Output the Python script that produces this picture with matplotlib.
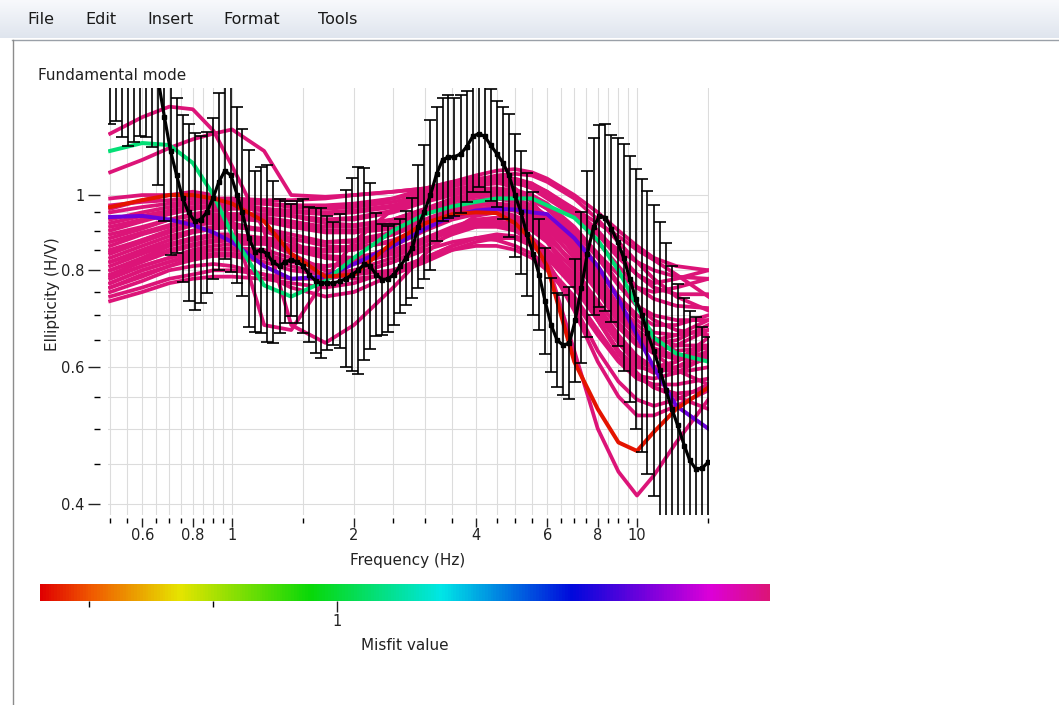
import numpy as np
import matplotlib
matplotlib.use("Agg")
import matplotlib.pyplot as plt
from matplotlib.colors import LinearSegmentedColormap, Normalize
from matplotlib.cm import ScalarMappable
from matplotlib.ticker import FixedLocator, FixedFormatter, NullFormatter

W, H = 1059, 705

# ---- measured ellipticity curve (black, with error bars) ----
freq = [0.500, 0.518, 0.536, 0.554, 0.574, 0.594, 0.614, 0.636, 0.658, 0.681,
        0.705, 0.730, 0.755, 0.781, 0.809, 0.837, 0.866, 0.897, 0.928, 0.960,
        0.994, 1.03, 1.06, 1.10, 1.14, 1.18, 1.22, 1.26, 1.31, 1.35,
        1.40, 1.45, 1.50, 1.55, 1.61, 1.66, 1.72, 1.78, 1.85, 1.91,
        1.98, 2.05, 2.12, 2.19, 2.27, 2.35, 2.43, 2.51, 2.60, 2.69,
        2.79, 2.88, 2.98, 3.09, 3.20, 3.31, 3.42, 3.54, 3.67, 3.80,
        3.93, 4.07, 4.21, 4.35, 4.51, 4.67, 4.83, 5.00, 5.17, 5.35,
        5.54, 5.73, 5.93, 6.14, 6.35, 6.58, 6.81, 7.04, 7.29, 7.54,
        7.81, 8.08, 8.36, 8.65, 8.96, 9.27, 9.60, 9.93, 10.3, 10.6,
        11.0, 11.4, 11.8, 12.2, 12.6, 13.1, 13.5, 14.0, 14.5, 15.0]
ellipticity = [1.58, 1.58, 1.57, 1.55, 1.52, 1.50, 1.52, 1.50, 1.40, 1.26,
               1.14, 1.06, 0.99, 0.95, 0.925, 0.93, 0.95, 0.99, 1.04, 1.075,
               1.06, 1.00, 0.95, 0.88, 0.845, 0.85, 0.84, 0.82, 0.81, 0.82,
               0.825, 0.82, 0.81, 0.79, 0.775, 0.77, 0.77, 0.77, 0.775, 0.78,
               0.79, 0.80, 0.815, 0.81, 0.79, 0.778, 0.78, 0.79, 0.81, 0.83,
               0.855, 0.91, 0.95, 1.00, 1.065, 1.11, 1.12, 1.12, 1.13, 1.155,
               1.19, 1.20, 1.19, 1.16, 1.13, 1.10, 1.06, 1.00, 0.95, 0.89,
               0.84, 0.79, 0.73, 0.68, 0.65, 0.64, 0.645, 0.69, 0.76, 0.84,
               0.91, 0.94, 0.935, 0.905, 0.87, 0.83, 0.78, 0.735, 0.70, 0.665,
               0.63, 0.595, 0.56, 0.53, 0.505, 0.475, 0.455, 0.443, 0.445, 0.453]
# multiplicative standard deviation (bar spans value/s .. value*s)
err_factor = [1.28, 1.27, 1.32, 1.34, 1.30, 1.26, 1.28, 1.30, 1.36, 1.36,
              1.36, 1.26, 1.28, 1.30, 1.30, 1.28, 1.27, 1.27, 1.30, 1.30,
              1.33, 1.30, 1.28, 1.30, 1.27, 1.28, 1.30, 1.27, 1.22, 1.20,
              1.18, 1.20, 1.22, 1.22, 1.24, 1.25, 1.22, 1.20, 1.22, 1.30,
              1.33, 1.36, 1.33, 1.28, 1.20, 1.18, 1.17, 1.16, 1.15, 1.15,
              1.16, 1.20, 1.22, 1.25, 1.22, 1.20, 1.20, 1.19, 1.19, 1.18,
              1.18, 1.17, 1.18, 1.18, 1.17, 1.18, 1.20, 1.20, 1.20, 1.20,
              1.20, 1.18, 1.17, 1.15, 1.15, 1.16, 1.18, 1.20, 1.25, 1.28,
              1.30, 1.31, 1.32, 1.32, 1.36, 1.40, 1.44, 1.47, 1.50, 1.52,
              1.54, 1.55, 1.55, 1.53, 1.52, 1.55, 1.56, 1.57, 1.52, 1.45]

# ---- inverted model curves ----
model_freq = [0.5, 0.6, 0.7, 0.8, 0.9, 1.0, 1.2, 1.4, 1.7, 2.0, 2.5, 3.0, 3.5,
              4.0, 4.5, 5.0, 5.5, 6.0, 7.0, 8.0, 9.0, 10.0, 11.0, 12.5, 15.0]

pink_curves = [
    [1.20, 1.26, 1.30, 1.29, 1.21, 1.09, 0.90, 0.68, 0.645, 0.68, 0.76, 0.84, 0.90, 0.94, 0.95, 0.93, 0.88, 0.82, 0.72, 0.63, 0.575, 0.545, 0.535, 0.545, 0.57],
    [1.07, 1.11, 1.15, 1.18, 1.20, 1.215, 1.14, 1.0, 0.995, 1.0, 1.01, 1.02, 1.03, 1.04, 1.045, 1.04, 1.02, 0.99, 0.94, 0.89, 0.85, 0.82, 0.80, 0.785, 0.78],
    [0.96, 0.985, 1.0, 1.01, 1.0, 0.93, 0.68, 0.67, 0.78, 0.87, 0.96, 1.01, 1.03, 1.04, 1.04, 1.02, 0.98, 0.93, 0.84, 0.76, 0.70, 0.66, 0.645, 0.65, 0.68],
    [0.77, 0.80, 0.82, 0.835, 0.84, 0.84, 0.83, 0.81, 0.79, 0.79, 0.82, 0.86, 0.89, 0.91, 0.92, 0.91, 0.875, 0.82, 0.63, 0.50, 0.44, 0.41, 0.435, 0.48, 0.545],
    [0.73, 0.75, 0.77, 0.78, 0.785, 0.785, 0.78, 0.77, 0.76, 0.77, 0.80, 0.83, 0.85, 0.86, 0.86, 0.85, 0.83, 0.80, 0.73, 0.66, 0.61, 0.58, 0.57, 0.57, 0.58],
    [0.74, 0.76, 0.78, 0.79, 0.80, 0.80, 0.79, 0.78, 0.78, 0.79, 0.82, 0.85, 0.87, 0.88, 0.875, 0.86, 0.84, 0.81, 0.74, 0.67, 0.615, 0.585, 0.58, 0.59, 0.62],
    [0.75, 0.775, 0.80, 0.81, 0.815, 0.81, 0.79, 0.76, 0.74, 0.75, 0.79, 0.83, 0.86, 0.88, 0.885, 0.88, 0.86, 0.83, 0.76, 0.69, 0.63, 0.59, 0.565, 0.55, 0.53],
    [0.76, 0.79, 0.81, 0.83, 0.835, 0.835, 0.82, 0.80, 0.79, 0.80, 0.83, 0.87, 0.90, 0.91, 0.91, 0.90, 0.88, 0.85, 0.78, 0.70, 0.645, 0.61, 0.60, 0.61, 0.64],
    [0.77, 0.80, 0.82, 0.84, 0.85, 0.855, 0.85, 0.83, 0.80, 0.79, 0.80, 0.83, 0.86, 0.88, 0.89, 0.885, 0.87, 0.84, 0.77, 0.69, 0.63, 0.60, 0.595, 0.61, 0.655],
    [0.78, 0.81, 0.83, 0.845, 0.85, 0.85, 0.84, 0.82, 0.81, 0.82, 0.86, 0.90, 0.93, 0.945, 0.95, 0.94, 0.92, 0.89, 0.81, 0.72, 0.66, 0.62, 0.60, 0.59, 0.60],
    [0.79, 0.82, 0.845, 0.86, 0.87, 0.875, 0.87, 0.85, 0.83, 0.83, 0.85, 0.88, 0.905, 0.92, 0.925, 0.92, 0.90, 0.87, 0.80, 0.73, 0.675, 0.64, 0.63, 0.64, 0.67],
    [0.80, 0.83, 0.86, 0.875, 0.885, 0.89, 0.88, 0.86, 0.85, 0.86, 0.89, 0.93, 0.96, 0.975, 0.975, 0.96, 0.94, 0.91, 0.85, 0.78, 0.72, 0.68, 0.655, 0.64, 0.64],
    [0.81, 0.84, 0.865, 0.88, 0.89, 0.89, 0.87, 0.84, 0.80, 0.78, 0.79, 0.82, 0.85, 0.87, 0.88, 0.88, 0.87, 0.85, 0.79, 0.71, 0.645, 0.605, 0.59, 0.60, 0.63],
    [0.82, 0.85, 0.875, 0.895, 0.905, 0.91, 0.905, 0.89, 0.87, 0.87, 0.89, 0.92, 0.95, 0.97, 0.975, 0.97, 0.955, 0.93, 0.87, 0.80, 0.74, 0.70, 0.68, 0.68, 0.70],
    [0.83, 0.86, 0.885, 0.90, 0.91, 0.91, 0.90, 0.88, 0.86, 0.855, 0.87, 0.91, 0.94, 0.96, 0.965, 0.955, 0.93, 0.895, 0.81, 0.72, 0.655, 0.615, 0.60, 0.60, 0.615],
    [0.84, 0.87, 0.895, 0.915, 0.925, 0.93, 0.93, 0.92, 0.90, 0.90, 0.92, 0.95, 0.98, 0.995, 1.0, 0.99, 0.97, 0.94, 0.87, 0.79, 0.72, 0.67, 0.645, 0.63, 0.635],
    [0.85, 0.875, 0.90, 0.915, 0.92, 0.92, 0.90, 0.87, 0.83, 0.82, 0.84, 0.88, 0.91, 0.93, 0.935, 0.93, 0.91, 0.88, 0.82, 0.75, 0.695, 0.66, 0.65, 0.66, 0.69],
    [0.86, 0.89, 0.91, 0.93, 0.94, 0.945, 0.945, 0.94, 0.93, 0.93, 0.95, 0.98, 1.0, 1.015, 1.02, 1.015, 1.0, 0.975, 0.91, 0.84, 0.77, 0.72, 0.69, 0.67, 0.66],
    [0.87, 0.895, 0.915, 0.93, 0.935, 0.935, 0.925, 0.91, 0.895, 0.895, 0.915, 0.945, 0.97, 0.985, 0.99, 0.98, 0.96, 0.93, 0.86, 0.78, 0.71, 0.66, 0.635, 0.62, 0.62],
    [0.88, 0.905, 0.93, 0.945, 0.955, 0.96, 0.96, 0.955, 0.95, 0.955, 0.97, 0.995, 1.015, 1.03, 1.035, 1.035, 1.025, 1.0, 0.94, 0.87, 0.81, 0.76, 0.735, 0.72, 0.715],
    [0.89, 0.91, 0.93, 0.94, 0.945, 0.945, 0.935, 0.92, 0.90, 0.895, 0.905, 0.93, 0.955, 0.97, 0.975, 0.97, 0.95, 0.92, 0.85, 0.77, 0.70, 0.655, 0.63, 0.62, 0.625],
    [0.90, 0.925, 0.945, 0.96, 0.97, 0.975, 0.975, 0.97, 0.965, 0.97, 0.99, 1.02, 1.04, 1.05, 1.055, 1.05, 1.035, 1.01, 0.95, 0.89, 0.83, 0.79, 0.77, 0.78, 0.80],
    [0.91, 0.93, 0.95, 0.96, 0.965, 0.965, 0.955, 0.94, 0.93, 0.935, 0.955, 0.985, 1.01, 1.03, 1.04, 1.04, 1.03, 1.01, 0.96, 0.90, 0.84, 0.79, 0.76, 0.745, 0.745],
    [0.92, 0.94, 0.955, 0.965, 0.97, 0.97, 0.96, 0.95, 0.945, 0.95, 0.965, 0.99, 1.01, 1.02, 1.02, 1.01, 0.99, 0.96, 0.89, 0.81, 0.74, 0.69, 0.665, 0.66, 0.67],
    [0.93, 0.95, 0.965, 0.975, 0.98, 0.98, 0.975, 0.97, 0.97, 0.975, 0.99, 1.01, 1.03, 1.04, 1.045, 1.045, 1.035, 1.0, 0.96, 0.92, 0.885, 0.85, 0.825, 0.79, 0.74],
    [0.95, 0.965, 0.975, 0.98, 0.98, 0.975, 0.96, 0.94, 0.92, 0.915, 0.93, 0.96, 0.99, 1.005, 1.01, 1.005, 0.99, 0.965, 0.90, 0.83, 0.765, 0.72, 0.70, 0.69, 0.69],
    [0.97, 0.98, 0.985, 0.99, 0.99, 0.985, 0.975, 0.965, 0.96, 0.965, 0.98, 1.0, 1.025, 1.045, 1.06, 1.065, 1.06, 1.04, 0.99, 0.93, 0.87, 0.82, 0.78, 0.74, 0.71],
    [0.80, 0.825, 0.85, 0.865, 0.875, 0.88, 0.88, 0.875, 0.87, 0.875, 0.895, 0.925, 0.95, 0.96, 0.955, 0.94, 0.91, 0.87, 0.78, 0.69, 0.625, 0.585, 0.565, 0.555, 0.56],
    [0.76, 0.785, 0.81, 0.825, 0.835, 0.84, 0.835, 0.82, 0.81, 0.815, 0.84, 0.875, 0.90, 0.915, 0.915, 0.90, 0.87, 0.82, 0.71, 0.61, 0.55, 0.52, 0.52, 0.535, 0.56],
    [0.845, 0.875, 0.90, 0.92, 0.93, 0.935, 0.935, 0.925, 0.91, 0.91, 0.93, 0.96, 0.985, 1.0, 1.005, 1.0, 0.985, 0.96, 0.90, 0.84, 0.79, 0.76, 0.75, 0.76, 0.78],
    [0.785, 0.81, 0.83, 0.85, 0.86, 0.865, 0.865, 0.855, 0.845, 0.85, 0.875, 0.91, 0.94, 0.955, 0.96, 0.955, 0.935, 0.905, 0.83, 0.75, 0.685, 0.645, 0.625, 0.615, 0.615],
    [0.82, 0.845, 0.865, 0.88, 0.885, 0.885, 0.875, 0.855, 0.835, 0.83, 0.845, 0.875, 0.905, 0.925, 0.935, 0.935, 0.925, 0.905, 0.85, 0.78, 0.71, 0.66, 0.625, 0.595, 0.57],
    [0.99, 1.0, 1.0, 0.995, 0.99, 0.99, 0.985, 0.985, 0.99, 1.0, 1.01, 1.02, 1.04, 1.06, 1.075, 1.08, 1.07, 1.05, 1.0, 0.95, 0.90, 0.86, 0.83, 0.81, 0.80],
]
pink_misfit = 1.6

curve_purple = [0.937, 0.94, 0.93, 0.915, 0.895, 0.87, 0.81, 0.78, 0.785, 0.815, 0.86, 0.905, 0.94,
                0.955, 0.96, 0.958, 0.95, 0.945, 0.88, 0.81, 0.735, 0.66, 0.60, 0.535, 0.50]
curve_green = [1.14, 1.167, 1.16, 1.10, 1.0, 0.89, 0.765, 0.74, 0.775, 0.83, 0.90, 0.945, 0.967,
               0.98, 0.99, 0.99, 0.99, 0.97, 0.935, 0.875, 0.80, 0.72, 0.655, 0.625, 0.61]
curve_red = [0.965, 0.985, 1.0, 1.0, 0.99, 0.975, 0.925, 0.84, 0.785, 0.79, 0.87, 0.92, 0.945,
             0.95, 0.948, 0.92, 0.875, 0.81, 0.61, 0.53, 0.48, 0.468, 0.495, 0.53, 0.565]
best_curves = [curve_purple, curve_green, curve_red]
best_misfit = [1.244, 1.03, 0.77]

# ---- axes ticks ----
x_major = [0.6, 0.8, 1, 2, 4, 6, 8, 10]
x_major_labels = ["0.6", "0.8", "1", "2", "4", "6", "8", "10"]
x_minor = [0.5, 0.55, 0.65, 0.7, 0.75, 0.85, 0.9, 0.95, 1.5, 2.5, 3, 3.5,
           4.5, 5, 5.5, 6.5, 7, 7.5, 8.5, 9, 9.5, 15]
y_major = [0.4, 0.6, 0.8, 1.0]
y_major_labels = ["0.4", "0.6", "0.8", "1"]
y_minor = [0.45, 0.5, 0.55, 0.65, 0.7, 0.75, 0.85, 0.9, 0.95]

menu_items = ["File", "Edit", "Insert", "Format", "Tools"]
menu_x = [27, 85, 147, 223, 318]

# misfit palette
palette = LinearSegmentedColormap.from_list("misfit", [
    (0.00, "#e00000"), (0.07, "#f05a00"), (0.19, "#e6e400"), (0.37, "#08d808"),
    (0.55, "#00e6e6"), (0.73, "#0008dc"), (0.84, "#8000dc"), (0.92, "#dc00d8"),
    (1.00, "#dc1478")])
norm = Normalize(0.76, 1.35)

plt.rcParams["font.family"] = ["DejaVu Sans"]
fig = plt.figure(figsize=(W / 100, H / 100), dpi=100)

# window chrome (menu bar and frame)
bg = fig.add_axes([0, 0, 1, 1])
menu_grad = LinearSegmentedColormap.from_list("menu", ["#f8f9fc", "#dfe5ee"])
bg.imshow(np.linspace(0, 1, 64).reshape(-1, 1), cmap=menu_grad,
          extent=[0, W, 38, 0], aspect="auto")
bg.plot([12, W], [39.5, 39.5], color="#9aa0a8", lw=1)
bg.plot([12.5, 12.5], [39.5, H], color="#8c8c8c", lw=1)
for label, x in zip(menu_items, menu_x):
    bg.text(x, 20, label, fontsize=11.5, ha="left", va="center", color="#1a1a1a")
bg.set_xlim(0, W)
bg.set_ylim(H, 0)
bg.axis("off")

# main plot
ax = fig.add_axes([108 / W, (H - 515) / H, 601 / W, 427 / H])
ax.set_xscale("log")
ax.set_yscale("log")

for c in pink_curves:
    ax.plot(model_freq, c, color=palette(norm(pink_misfit)), lw=2.7,
            solid_joinstyle="round", zorder=2)
for c, m in zip(best_curves, best_misfit):
    ax.plot(model_freq, c, color=palette(norm(m)), lw=2.9,
            solid_joinstyle="round", zorder=3)

f = np.array(freq)
v = np.array(ellipticity)
s = np.array(err_factor)
ax.errorbar(f, v, yerr=[v - v / s, v * s - v], fmt="none", ecolor="black",
            elinewidth=1.2, capsize=4.0, capthick=1.2, zorder=4)
ax.plot(f, v, color="black", lw=2.3, marker="s", ms=3.4, zorder=5)

ax.set_xlim(0.494, 15.06)
ax.set_ylim(0.387, 1.374)

ax.xaxis.set_major_locator(FixedLocator(x_major))
ax.xaxis.set_major_formatter(FixedFormatter(x_major_labels))
ax.xaxis.set_minor_locator(FixedLocator(x_minor))
ax.xaxis.set_minor_formatter(NullFormatter())
ax.yaxis.set_major_locator(FixedLocator(y_major))
ax.yaxis.set_major_formatter(FixedFormatter(y_major_labels))
ax.yaxis.set_minor_locator(FixedLocator(y_minor))
ax.yaxis.set_minor_formatter(NullFormatter())

ax.set_axisbelow(True)
ax.grid(True, which="both", color="#dcdcdc", lw=0.8)
for side in ["top", "right", "left", "bottom"]:
    ax.spines[side].set_visible(False)
ax.spines["left"].set_position(("outward", 5.8))
ax.spines["bottom"].set_position(("outward", 2.2))
ax.tick_params(axis="y", which="major", length=9, width=1.0, pad=2,
               labelsize=10.5, colors="#222222")
ax.tick_params(axis="y", which="minor", length=4.3, width=1.0)
ax.tick_params(axis="x", which="major", length=6.5, width=1.0, pad=1,
               labelsize=10.5, colors="#222222")
ax.tick_params(axis="x", which="minor", length=3.6, width=1.0)

fig.text(38 / W, 1 - 75 / H, "Fundamental mode", ha="left", va="center",
         fontsize=11, color="#222222")
fig.text(408 / W, 1 - 561 / H, "Frequency (Hz)", ha="center", va="center",
         fontsize=11, color="#222222")
fig.text(52 / W, 1 - 294 / H, "Ellipticity (H/V)", ha="center", va="center",
         rotation=90, fontsize=11, color="#222222")

# misfit colour scale
cax = fig.add_axes([40 / W, (H - 601) / H, 730 / W, 17 / H])
cb = fig.colorbar(ScalarMappable(norm=norm, cmap=palette), cax=cax,
                  orientation="horizontal")
cb.outline.set_visible(False)
cb.set_ticks([1.0], labels=["1"])
cb.set_ticks([0.8, 0.9], minor=True)
cax.tick_params(axis="x", which="major", length=8, width=1.0, pad=1,
                labelsize=10.5, colors="#222222")
cax.tick_params(axis="x", which="minor", length=4, width=1.0)
fig.text(405 / W, 1 - 645 / H, "Misfit value", ha="center", va="center",
         fontsize=11, color="#222222")

fig.savefig("out.png", dpi=100, facecolor="white")
